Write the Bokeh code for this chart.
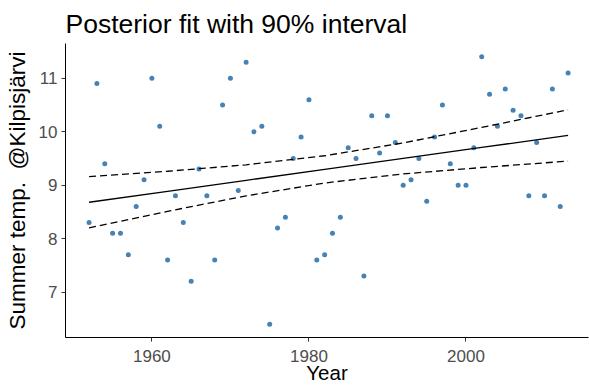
from bokeh.plotting import figure
from bokeh.models import FixedTicker, Range1d
from bokeh.embed import file_html
from bokeh.resources import INLINE

years = list(range(1952, 2014))
temps = [8.3, 10.9, 9.4, 8.1, 8.1, 7.7, 8.6, 9.1, 11.0, 10.1,
         7.6, 8.8, 8.3, 7.2, 9.3, 8.8, 7.6, 10.5, 11.0, 8.9,
         11.3, 10.0, 10.1, 6.4, 8.2, 8.4, 9.5, 9.9, 10.6, 7.6,
         7.7, 8.1, 8.4, 9.7, 9.5, 7.3, 10.3, 9.6, 10.3, 9.8,
         9.0, 9.1, 9.5, 8.7, 9.9, 10.5, 9.4, 9.0, 9.0, 9.7,
         11.4, 10.7, 10.1, 10.8, 10.4, 10.3, 8.8, 9.8, 8.8, 10.8,
         8.6, 11.1]

fit_years = [1952, 1962, 1972, 1982, 1992, 2002, 2013]
fit_mean = [8.68, 8.885, 9.09, 9.295, 9.50, 9.705, 9.93]
fit_upper = [9.16, 9.26, 9.38, 9.55, 9.79, 10.08, 10.41]
fit_lower = [8.20, 8.51, 8.80, 9.04, 9.21, 9.33, 9.45]

x_ticks = [1960, 1980, 2000]
y_ticks = [7, 8, 9, 10, 11]

FONT = "Liberation Sans"

p = figure(width=589, height=387, output_backend="svg", toolbar_location=None,
           x_range=Range1d(1949.0, 2015.6), y_range=Range1d(6.15, 11.65),
           min_border_left=65, min_border_right=1, min_border_top=43, min_border_bottom=50,
           title="Posterior fit with 90% interval")

p.title.text_font = FONT
p.title.text_font_size = "26.5px"
p.title.text_font_style = "normal"
p.title.text_color = "black"
p.title.align = "left"
p.title.offset = 0
p.title.standoff = 10

p.outline_line_color = None
p.grid.visible = False
p.background_fill_color = "white"
p.border_fill_color = "white"

p.scatter(years, temps, size=5, color="#4682B4", line_color=None)
p.line(fit_years, fit_mean, line_color="black", line_width=1.3)
p.line(fit_years, fit_upper, line_color="black", line_width=1.3, line_dash="7 4")
p.line(fit_years, fit_lower, line_color="black", line_width=1.3, line_dash="7 4")

for ax in (p.xaxis[0], p.yaxis[0]):
    ax.axis_line_color = "black"
    ax.axis_line_width = 1
    ax.major_tick_line_color = "#333333"
    ax.major_tick_out = 4
    ax.major_tick_in = 0
    ax.minor_tick_line_color = None
    ax.major_label_text_font = FONT
    ax.major_label_text_font_size = "17px"
    ax.major_label_text_color = "#4D4D4D"
    ax.axis_label_text_font = FONT
    ax.axis_label_text_font_style = "normal"
    ax.axis_label_text_color = "black"

p.xaxis[0].axis_label_text_font_size = "20.5px"
p.yaxis[0].axis_label_text_font_size = "22.5px"
p.xaxis[0].ticker = FixedTicker(ticks=x_ticks)
p.yaxis[0].ticker = FixedTicker(ticks=y_ticks)
p.xaxis[0].axis_label = "Year"
p.yaxis[0].axis_label = "Summer temp.\u00a0 @Kilpisjärvi"
p.xaxis[0].major_label_standoff = 8
p.xaxis[0].axis_label_standoff = -4
p.yaxis[0].major_label_standoff = 4
p.yaxis[0].axis_label_standoff = 6

open("out.html", "w").write(file_html(p, INLINE))
